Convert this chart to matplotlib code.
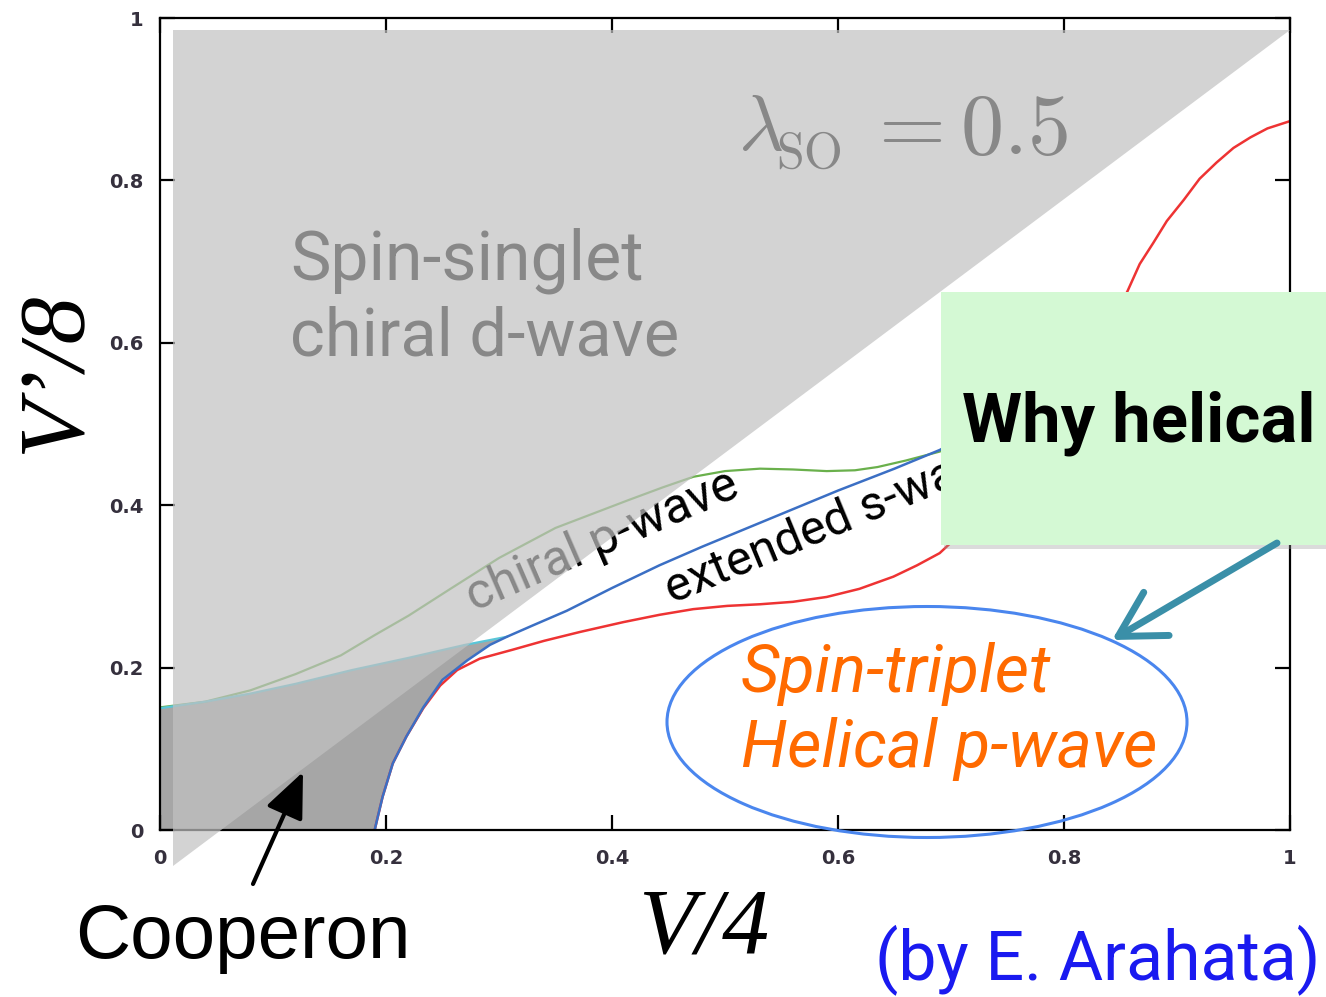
import matplotlib
matplotlib.use("Agg")
import matplotlib.pyplot as plt
from matplotlib.patches import Polygon, Rectangle, Ellipse

# ---------------- data ----------------
blue_x = [0.190, 0.192, 0.197, 0.206, 0.218, 0.233, 0.250, 0.272, 0.292, 0.307, 0.33, 0.36, 0.40, 0.442, 0.48, 0.52, 0.56, 0.60, 0.65, 0.69, 0.74, 0.78]
blue_y = [0.000, 0.012, 0.041, 0.082, 0.115, 0.151, 0.185, 0.209, 0.228, 0.238, 0.252, 0.270, 0.298, 0.326, 0.349, 0.372, 0.395, 0.418, 0.445, 0.468, 0.505, 0.535]

red_x = [0.190, 0.192, 0.197, 0.206, 0.218, 0.233, 0.248, 0.263, 0.283, 0.312, 0.340, 0.372, 0.410, 0.442, 0.472, 0.502, 0.531, 0.560, 0.590, 0.619, 0.649, 0.670, 0.690,
         0.72, 0.76, 0.80, 0.83, 0.856, 0.867, 0.879, 0.891, 0.906, 0.920, 0.935, 0.950, 0.965, 0.980, 1.000]
red_y = [0.000, 0.012, 0.041, 0.082, 0.115, 0.150, 0.178, 0.197, 0.211, 0.222, 0.233, 0.244, 0.256, 0.265, 0.272, 0.276, 0.278, 0.281, 0.287, 0.297, 0.312, 0.326, 0.341,
         0.380, 0.450, 0.528, 0.598, 0.663, 0.697, 0.723, 0.750, 0.776, 0.802, 0.822, 0.840, 0.853, 0.864, 0.873]

green_x = [0.0, 0.04, 0.08, 0.12, 0.16, 0.19, 0.22, 0.257, 0.30, 0.35, 0.414, 0.445, 0.472, 0.50, 0.531, 0.56, 0.59, 0.615, 0.635, 0.66, 0.69, 0.74]
green_y = [0.151, 0.158, 0.172, 0.192, 0.215, 0.240, 0.264, 0.297, 0.335, 0.372, 0.406, 0.422, 0.435, 0.442, 0.445, 0.444, 0.442, 0.443, 0.447, 0.455, 0.466, 0.50]

cyan_x = [0.0, 0.04, 0.08, 0.12, 0.17, 0.22, 0.27, 0.307]
cyan_y = [0.150, 0.158, 0.168, 0.180, 0.197, 0.212, 0.228, 0.238]

ticks = [0, 0.2, 0.4, 0.6, 0.8, 1]
tick_labels = ["0", "0.2", "0.4", "0.6", "0.8", "1"]

W, H = 1326, 997
fig = plt.figure(figsize=(W / 100, H / 100), dpi=100)


def fx(px):
    return px / W


def fy(py):
    return 1 - py / H


L, R, T, B = 160, 1290, 18, 830
ax = fig.add_axes([fx(L), fy(B), (R - L) / W, (B - T) / H])
ax.set_xlim(0, 1)
ax.set_ylim(0, 1)
ax.set_xticks(ticks)
ax.set_yticks(ticks)
ax.set_xticklabels(tick_labels)
ax.set_yticklabels(tick_labels)
for s in ax.spines.values():
    s.set_linewidth(1.6)
ax.tick_params(direction="in", length=11, width=1.6, top=True, right=True,
               labelsize=14, labelcolor="#35303d")
ax.tick_params(axis="x", pad=14)
ax.tick_params(axis="y", pad=12)
for lab in ax.get_xticklabels() + ax.get_yticklabels():
    lab.set_fontweight("bold")
    lab.set_family("DejaVu Sans")

# Cooperon region (dark gray)
nb = 10  # blue points up to where it meets the cyan line
poly_x = [0.0] + blue_x[:nb] + cyan_x[::-1]
poly_y = [0.0] + blue_y[:nb] + cyan_y[::-1]
ax.fill(poly_x, poly_y, color="#a6a6a6", lw=0, zorder=1)

# curves
ax.plot(green_x, green_y, color="#6ab04c", lw=1.6, zorder=2)
ax.plot(cyan_x, cyan_y, color="#5ac6d8", lw=1.6, zorder=2)
ax.plot(red_x, red_y, color="#ee3333", lw=1.8, zorder=2)
ax.plot(blue_x, blue_y, color="#3b6fc4", lw=1.8, zorder=2.1)

# texts drawn under the translucent overlay
tf = fig.transFigure
ax.text(fx(290), fy(280), "Spin-singlet", transform=tf, fontsize=49, family="Roboto",
        color="black", ha="left", va="baseline", zorder=3, clip_on=False)
ax.text(fx(290), fy(355), "chiral d-wave", transform=tf, fontsize=48, family="Roboto",
        color="black", ha="left", va="baseline", zorder=3, clip_on=False)
plt.rcParams["mathtext.fontset"] = "cm"
ax.text(fx(738), fy(150), r"$\lambda$", transform=tf, fontsize=56,
        color="black", ha="left", va="baseline", zorder=3, clip_on=False)
ax.text(fx(776), fy(168), r"$\mathrm{SO}$", transform=tf, fontsize=36,
        color="black", ha="left", va="baseline", zorder=3, clip_on=False)
ax.text(fx(863), fy(154), r"$=0.5$", transform=tf, fontsize=62,
        color="black", ha="left", va="baseline", zorder=3, clip_on=False)
ax.text(fx(474), fy(612), "chiral p-wave", transform=tf, fontsize=36, family="Roboto",
        rotation=23.5, rotation_mode="anchor", ha="left", va="baseline", zorder=3, clip_on=False)
ax.text(fx(672), fy(604), "extended s-wave", transform=tf, fontsize=35, family="Roboto",
        rotation=22.5, rotation_mode="anchor", ha="left", va="baseline", zorder=3, clip_on=False)

# translucent gray overlay triangle
ox0 = (173 - L) / (R - L)
oy_top = (B - 30) / (B - T)
oy_bot = (B - 866) / (B - T)
ax.add_patch(Polygon([(ox0, oy_top), (1.0, oy_top), (ox0, oy_bot)], closed=True,
                     facecolor="#c1c1c1", alpha=0.71, lw=0, zorder=4, clip_on=False))

# ellipse with orange text
ax.add_patch(Ellipse((fx(927), fy(722)), 520 / W, 231 / H, transform=tf, fill=False,
                     edgecolor="#4a86ee", lw=2.2, zorder=5, clip_on=False))
ax.text(fx(741), fy(692), "Spin-triplet", transform=tf, fontsize=48, family="Roboto",
        style="italic", color="#ff6a00", ha="left", va="baseline", zorder=6, clip_on=False)
ax.text(fx(741), fy(767), "Helical p-wave", transform=tf, fontsize=48, family="Roboto",
        style="italic", color="#ff6a00", ha="left", va="baseline", zorder=6, clip_on=False)

# green box
ax.add_patch(Rectangle((fx(944), fy(549)), (1340 - 944) / W, 256 / H, transform=tf,
                       facecolor="#9a9a9a", alpha=0.35, lw=0, zorder=6, clip_on=False))
ax.add_patch(Rectangle((fx(941), fy(545)), (1340 - 941) / W, 253 / H, transform=tf,
                       facecolor="#d4f9d4", lw=0, zorder=6.5, clip_on=False))
ax.text(fx(962), fy(442), "Why helical", transform=tf, fontsize=49.5, family="Roboto",
        weight="bold", color="black", ha="left", va="baseline", zorder=7, clip_on=False)

# arrows
ax.annotate("", xy=(fx(1112), fy(640)), xytext=(fx(1277), fy(543)),
            xycoords="figure fraction", textcoords="figure fraction",
            arrowprops=dict(arrowstyle="->,head_length=0.8,head_width=0.45",
                            color="#3a8fa8", lw=5, mutation_scale=40,
                            shrinkA=0, shrinkB=0), zorder=8, annotation_clip=False)
ax.annotate("", xy=(fx(303), fy(772)), xytext=(fx(253), fy(884)),
            xycoords="figure fraction", textcoords="figure fraction",
            arrowprops=dict(arrowstyle="-|>,head_length=0.7,head_width=0.3",
                            color="black", lw=3, mutation_scale=40,
                            shrinkA=0, shrinkB=0), zorder=8, annotation_clip=False)

# axis labels
ax.set_xlabel("V/4", family="Liberation Serif", style="italic", fontsize=68, va="center")
ax.xaxis.set_label_coords((704 - L) / (R - L), (B - 930) / (B - T))
ax.set_ylabel("V\u2019/8", family="Liberation Serif", style="italic", fontsize=68,
              va="center", ha="center")
ax.yaxis.set_label_coords((57 - L) / (R - L), (B - 373) / (B - T))

# other annotations
fig.text(fx(75), fy(958), "Cooperon", family="Liberation Sans", fontsize=55,
         color="black", ha="left", va="baseline")
fig.text(fx(1320), fy(979), "(by E. Arahata)", family="Roboto", fontsize=49,
         color="#1a1af0", ha="right", va="baseline")

fig.savefig("out.png", dpi=100)
